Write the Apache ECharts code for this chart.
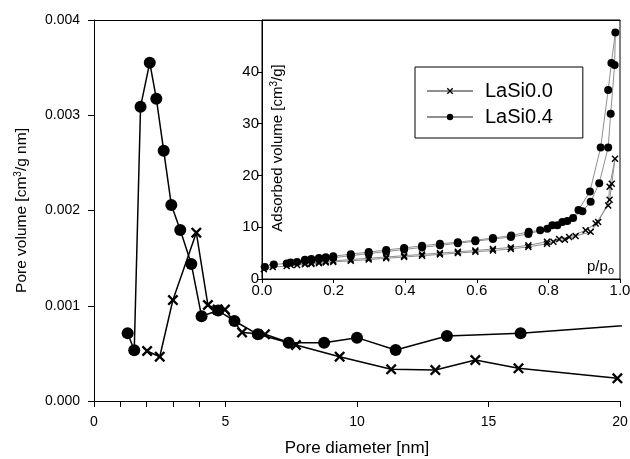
<!DOCTYPE html>
<html>
<head>
<meta charset="utf-8">
<script src="https://cdn.jsdelivr.net/npm/echarts@6/dist/echarts.min.js"></script>
<style>
  html, body { margin: 0; padding: 0; background: #fff; }
  #chart { width: 630px; height: 459px; }
</style>
</head>
<body>
<div id="chart"></div>
<script>
const FONT = '"Liberation Sans", Arial, Helvetica, sans-serif';

// Pore size distribution: pore diameter [nm] and pore volume [cm3/g nm]
const psdDiameter00 = [2.02, 2.5, 3.0, 3.89, 4.33, 4.7, 4.98, 5.63, 6.5, 7.68, 9.34, 11.3, 12.98, 14.5, 16.14, 19.9];
const psdVolume00   = [0.000525, 0.000465, 0.00106, 0.001767, 0.001008, 0.00096, 0.00096, 0.00072, 0.0007, 0.000588, 0.000465, 0.000333, 0.000325, 0.00043, 0.000343, 0.000238];
const psdDiameter04 = [1.28, 1.53, 1.77, 2.12, 2.37, 2.65, 2.94, 3.28, 3.7, 4.09, 4.72, 5.34, 6.23, 7.4, 8.75, 10.0, 11.47, 13.42, 16.22, 21.5];
const psdVolume04   = [0.000711, 0.000532, 0.00309, 0.003552, 0.003174, 0.002628, 0.002058, 0.001795, 0.001438, 0.00089, 0.00095, 0.00084, 0.0007, 0.000612, 0.000612, 0.000665, 0.000535, 0.000682, 0.000711, 0.00082];

// N2 isotherms: relative pressure p/p0 and adsorbed volume [cm3/g]
const adsP00 = [0.005, 0.03, 0.069, 0.098, 0.12, 0.138, 0.159, 0.178, 0.199, 0.248, 0.298, 0.347, 0.397, 0.447, 0.497, 0.547, 0.596, 0.645, 0.695, 0.744, 0.796, 0.814, 0.846, 0.876, 0.918, 0.939, 0.971, 0.977, 0.986];
const adsV00 = [1.9, 2.3, 2.5, 2.7, 2.85, 2.9, 3.05, 3.2, 3.3, 3.5, 3.75, 4.0, 4.25, 4.5, 4.75, 5.0, 5.25, 5.5, 5.8, 6.2, 6.8, 7.2, 7.6, 8.3, 9.1, 11.0, 15.3, 18.4, 23.2];
const desP00 = [0.971, 0.967, 0.932, 0.904, 0.858, 0.83, 0.796, 0.744, 0.695, 0.645, 0.596, 0.547, 0.497, 0.447, 0.397, 0.347, 0.298, 0.248, 0.199, 0.178, 0.159, 0.138, 0.12, 0.08];
const desV00 = [17.8, 14.2, 10.7, 9.4, 8.1, 7.7, 7.2, 6.5, 6.1, 5.8, 5.5, 5.25, 5.0, 4.75, 4.5, 4.25, 4.0, 3.75, 3.5, 3.4, 3.25, 3.1, 3.0, 2.7];

const adsP04 = [0.008, 0.033, 0.069, 0.098, 0.12, 0.138, 0.159, 0.178, 0.199, 0.248, 0.298, 0.347, 0.397, 0.447, 0.497, 0.547, 0.596, 0.645, 0.695, 0.744, 0.797, 0.825, 0.853, 0.895, 0.918, 0.942, 0.967, 0.974, 0.985, 0.987];
const adsV04 = [2.3, 2.8, 3.0, 3.3, 3.5, 3.6, 3.8, 4.0, 4.1, 4.5, 4.9, 5.3, 5.7, 6.1, 6.5, 6.9, 7.3, 7.7, 8.1, 8.7, 9.7, 10.4, 11.2, 13.1, 14.9, 18.5, 25.4, 31.9, 41.3, 47.6];
const desP04 = [0.976, 0.967, 0.946, 0.916, 0.884, 0.869, 0.839, 0.811, 0.777, 0.745, 0.696, 0.645, 0.596, 0.547, 0.497, 0.447, 0.397, 0.347, 0.298, 0.248, 0.199, 0.178, 0.159, 0.138, 0.12, 0.08];
const desV04 = [41.7, 36.5, 25.4, 16.9, 13.3, 11.8, 11.0, 10.4, 9.4, 9.1, 8.4, 7.9, 7.5, 7.1, 6.8, 6.4, 6.0, 5.6, 5.2, 4.8, 4.4, 4.2, 4.05, 3.85, 3.7, 3.2];

// Tick values
const psdXTicks = [0, 1, 2, 3, 4, 5, 10, 15, 20];

const pairs = (xs, ys) => xs.map((x, i) => [x, ys[i]]);
const loop = (ap, av, dp, dv) => pairs(ap, av).concat(pairs(dp, dv));

// bold "x" marker
const CROSS = 'path://M1.5,0 L5,3.5 L8.5,0 L10,1.5 L6.5,5 L10,8.5 L8.5,10 L5,6.5 L1.5,10 L0,8.5 L3.5,5 L0,1.5 Z';

const chart = echarts.init(document.getElementById('chart'), null, { renderer: 'canvas' });

const txt = { fontFamily: FONT, color: '#000' };
const blackLine = { lineStyle: { color: '#000', width: 1 } };

chart.setOption({
  animation: false,
  backgroundColor: '#fff',
  textStyle: { fontFamily: FONT },
  grid: [
    { left: 94, top: 20, right: 10, bottom: 58, containLabel: false, outerBoundsMode: 'none' },
    { left: 262, top: 20, right: 10, bottom: 180, containLabel: false, outerBoundsMode: 'none',
      show: true, backgroundColor: '#fff', borderColor: '#000', borderWidth: 1 }
  ],
  legend: {
    data: ['LaSi0.0', 'LaSi0.4'],
    orient: 'vertical',
    left: 415, top: 67,
    itemWidth: 46, itemHeight: 8, itemGap: 6,
    padding: [14, 30, 11, 11],
    borderColor: '#000', borderWidth: 1,
    backgroundColor: '#fff',
    selectedMode: false,
    textStyle: Object.assign({}, txt, { fontSize: 20, lineHeight: 20, padding: [0, 0, 0, 7] })
  },
  xAxis: [
    {
      gridIndex: 0, type: 'value', min: 0, max: 20, interval: 5,
      axisLine: Object.assign({ onZero: false }, blackLine),
      axisTick: { length: 6, customValues: psdXTicks, lineStyle: { color: '#000' } },
      axisLabel: Object.assign({ fontSize: 14, margin: 14 }, txt),
      splitLine: { show: false },
      name: 'Pore diameter [nm]', nameLocation: 'middle', nameGap: 39,
      nameTextStyle: Object.assign({ fontSize: 17 }, txt)
    },
    {
      gridIndex: 0, type: 'value', position: 'top', min: 0, max: 20,
      axisLine: Object.assign({ onZero: false }, blackLine),
      axisTick: { show: false }, axisLabel: { show: false }, splitLine: { show: false }
    },
    {
      gridIndex: 1, type: 'value', min: 0, max: 1, interval: 0.2,
      axisLine: Object.assign({ onZero: false }, blackLine),
      axisTick: { length: 4, lineStyle: { color: '#000' } },
      axisLabel: Object.assign({ fontSize: 15, margin: 4, formatter: v => v.toFixed(1) }, txt),
      splitLine: { show: false }
    }
  ],
  yAxis: [
    {
      gridIndex: 0, type: 'value', min: 0, max: 0.004, interval: 0.001,
      axisLine: Object.assign({ onZero: false }, blackLine),
      axisTick: { length: 6, lineStyle: { color: '#000' } },
      axisLabel: Object.assign({ fontSize: 14, margin: 14, formatter: v => v.toFixed(3) }, txt),
      splitLine: { show: false },
      name: '{t|Pore volume [cm}{s|3}{t|/g nm]}', nameLocation: 'middle', nameGap: 63,
      nameTextStyle: Object.assign({
        rich: {
          t: { fontSize: 15.5, fontFamily: FONT, color: '#000' },
          s: { fontSize: 10, fontFamily: FONT, color: '#000', verticalAlign: 'top', padding: [0, 0, 8, 0] }
        }
      }, txt)
    },
    {
      gridIndex: 1, type: 'value', min: 0, max: 50, interval: 10,
      axisLine: Object.assign({ onZero: false }, blackLine),
      axisTick: { length: 5, lineStyle: { color: '#000' } },
      axisLabel: Object.assign({ fontSize: 15, margin: 3, formatter: v => (v === 50 ? '' : String(v)) }, txt),
      splitLine: { show: false }
    }
  ],
  graphic: [
    {
      type: 'text', x: 278, y: 148, rotation: Math.PI / 2,
      style: {
        text: '{t|Adsorbed volume [cm}{s|3}{t|/g]}',
        align: 'center', verticalAlign: 'middle',
        rich: {
          t: { fontSize: 15, fontFamily: FONT, fill: '#000' },
          s: { fontSize: 10, fontFamily: FONT, fill: '#000', verticalAlign: 'top', padding: [0, 0, 8, 0] }
        }
      }
    },
    {
      type: 'text', x: 614, y: 267,
      style: {
        text: '{t|p/p}{b|o}',
        align: 'right', verticalAlign: 'middle',
        rich: {
          t: { fontSize: 15, fontFamily: FONT, fill: '#000' },
          b: { fontSize: 11, fontFamily: FONT, fill: '#000', padding: [8, 0, 0, 0] }
        }
      }
    }
  ],
  series: [
    {
      name: 'LaSi0.0', type: 'line', xAxisIndex: 2, yAxisIndex: 1,
      data: loop(adsP00, adsV00, desP00, desV00),
      symbol: CROSS, symbolSize: 7,
      lineStyle: { color: '#8f8f8f', width: 1 },
      itemStyle: { color: '#000' }, z: 3
    },
    {
      name: 'LaSi0.4', type: 'line', xAxisIndex: 2, yAxisIndex: 1,
      data: loop(adsP04, adsV04, desP04, desV04),
      symbol: 'circle', symbolSize: 8,
      lineStyle: { color: '#8f8f8f', width: 1 },
      itemStyle: { color: '#000' }, z: 3
    },
    {
      name: 'LaSi0.0', type: 'line', xAxisIndex: 0, yAxisIndex: 0,
      data: pairs(psdDiameter00, psdVolume00),
      symbol: CROSS, symbolSize: 11,
      lineStyle: { color: '#000', width: 1.5 },
      itemStyle: { color: '#000' }
    },
    {
      name: 'LaSi0.4', type: 'line', xAxisIndex: 0, yAxisIndex: 0,
      data: pairs(psdDiameter04, psdVolume04),
      symbol: 'circle', symbolSize: 12,
      lineStyle: { color: '#000', width: 1.5 },
      itemStyle: { color: '#000' }
    }
  ]
});
</script>
</body>
</html>
